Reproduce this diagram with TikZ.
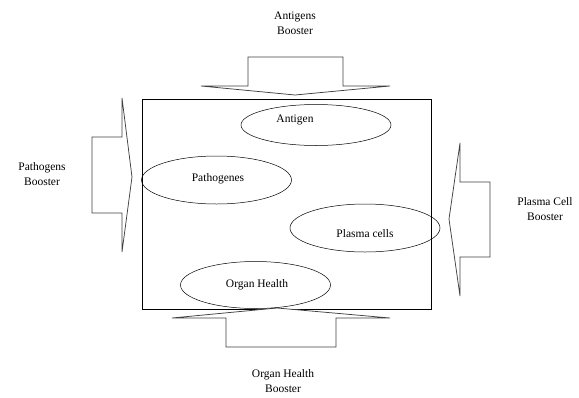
\documentclass[tikz,border=0pt]{standalone}
\usepackage{fontspec}
\setmainfont{Liberation Serif}
\usetikzlibrary{shapes.geometric}

\tikzset{
  blob/.style = {draw, line width = 0.5pt, ellipse, inner sep = 0pt, minimum width = 150pt},
  word/.style = {font = \fontsize{11.5}{15}\selectfont, inner sep = 0pt, align = center},
  boost/.style = {draw = black!75, line width = 0.75pt, fill = white, line join = miter}
}

\begin{document}
\begin{tikzpicture} [x = 1pt, y = -1pt]
\useasboundingbox (0, 0) rectangle (579, 397);
% the field
\draw[line width = 0.6pt] (142, 99) rectangle (431, 309);
% boosters
\draw[boost] (248, 57) -- (343, 57) -- (343, 86) -- (390, 86) -- (295, 95) -- (201, 86) -- (248, 86) -- cycle;
\draw[boost] (92, 137) -- (122, 137) -- (122, 98) -- (132, 177) -- (122, 252) -- (122, 213) -- (92, 213) -- cycle;
\draw[boost] (490, 182) -- (460, 182) -- (460, 143) -- (449, 219) -- (460, 296) -- (460, 257) -- (490, 257) -- cycle;
\draw[boost] (226, 347) -- (336, 347) -- (336, 318) -- (390, 318) -- (277, 308) -- (172, 318) -- (226, 318) -- cycle;
% cells
\node[blob, minimum height = 41pt] (antigen) at (316, 125) {};
\node[blob, minimum height = 48pt] (patho) at (216.5, 180) {};
\node[blob, minimum height = 48pt] (plasma) at (365, 228) {};
\node[blob, minimum height = 47pt] (organ) at (255.5, 285) {};
\node[word] (antigentxt) at (295, 120) {Antigen};
\node[word] (pathotxt) at (218, 179) {Pathogenes};
\node[word] (plasmatxt) at (365, 234) {Plasma cells};
\node[word] (organtxt) at (257, 285) {Organ Health};
% booster labels
\node[word] (antigenboost) at (295, 23) {Antigens\\Booster};
\node[word] (pathoboost) at (42, 174) {Pathogens\\Booster};
\node[word] (plasmaboost) at (545, 209) {Plasma Cell\\Booster};
\node[word] (organboost) at (283, 381) {Organ Health\\Booster};
\end{tikzpicture}
\end{document}
